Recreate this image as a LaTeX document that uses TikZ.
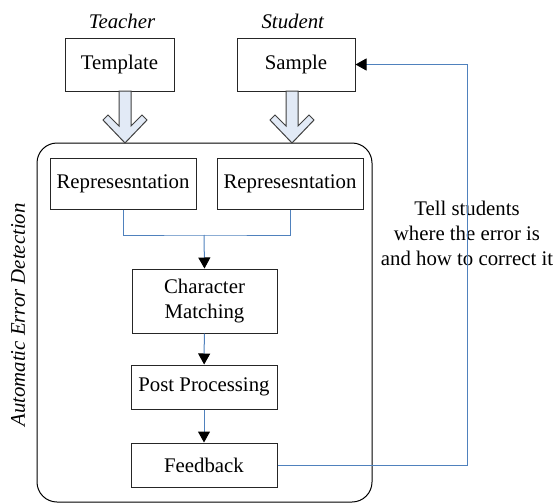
\documentclass[tikz,border=0pt]{standalone}
\usepackage{fontspec}
\setmainfont{Liberation Serif}
\usetikzlibrary{arrows.meta, positioning}
\definecolor{linkblue}{RGB}{79,129,189}
\definecolor{arrowfill}{RGB}{226,234,246}

\begin{document}
\begin{tikzpicture}[
    x=0.5pt, y=-0.5pt,
    every node/.style={font=\fontsize{10.4}{12.5}\selectfont},
    box/.style={rectangle, draw=black!85, line width=0.5pt, inner sep=0pt, align=center},
    link/.style={draw=linkblue, line width=0.5pt},
    flow/.style={link, -{Triangle[color=black, width=6pt, length=5.5pt]}},
    hollow/.style={draw=black!75, fill=arrowfill, line width=0.5pt}
]
\useasboundingbox (0,0) rectangle (557,503);

% Container
\node[box, draw=black, rounded corners=10pt, minimum width=167.5pt, minimum height=179.5pt] (aed) at (204.5,322.5) {};
\node[rotate=90, font=\fontsize{10.4}{12.5}\selectfont\itshape] (aedlabel) at (18,315) {Automatic Error Detection};

% Inputs
\node (teacher) at (122,21) {\textit{Teacher}};
\node (student) at (293,21) {\textit{Student}};
\node[box, minimum width=54.5pt, minimum height=26.5pt] (template) at (119.5,64.5) {Template};
\node[box, minimum width=59pt, minimum height=26.5pt] (sample) at (296,64.5) {Sample};

% Hollow arrows
\foreach \ax in {125,292} {
    \draw[hollow] ({\ax-6},91) -- ({\ax-6},126) -- ({\ax-17},115) -- ({\ax-22},120)
        -- (\ax,143) -- ({\ax+22},120) -- ({\ax+17},115) -- ({\ax+6},126)
        -- ({\ax+6},91) -- cycle;
}

% Steps
\node[box, minimum width=73pt, minimum height=25.5pt] (repleft) at (123,183.5) {Represesntation};
\node[box, minimum width=73pt, minimum height=25.5pt] (repright) at (290,183.5) {Represesntation};
\node[box, minimum width=72.5pt, minimum height=32pt] (matching) at (204.5,301) {Character\\Matching};
\node[box, minimum width=73pt, minimum height=22pt] (post) at (204,387) {Post Processing};
\node[box, minimum width=73pt, minimum height=22pt] (feedback) at (204,465) {Feedback};

\node[align=center] (tell) at (467,233) {Tell students\\where the error is\\and how to correct it};

% Connectors
\coordinate (merge) at (204,235);
\coordinate (turn) at (467,465);
\draw[link] (repleft.south) |- (merge) -| (repright.south);
\draw[flow] (merge) -- (matching.north);
\draw[flow] (matching) -- (post);
\draw[flow] (post) -- (feedback);
\draw[flow] (feedback.east) -- (turn) |- (sample.east);

\end{tikzpicture}
\end{document}
